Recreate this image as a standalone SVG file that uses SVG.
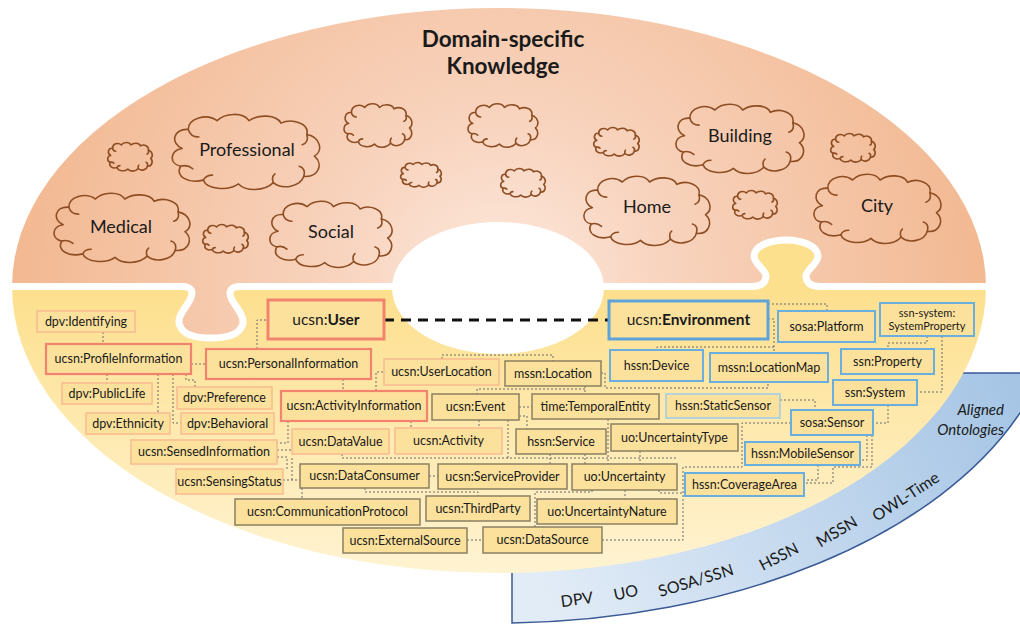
<svg xmlns="http://www.w3.org/2000/svg" xmlns:xlink="http://www.w3.org/1999/xlink" width="1020" height="625" viewBox="0 0 1020 625">
<style>
text{font-family:Lato,"Open Sans","Liberation Sans",sans-serif;fill:#1a1a1a}
.bx{font-size:12.5px;text-anchor:middle}
.big{font-size:15.5px;text-anchor:middle}
.cl{font-size:18px;text-anchor:middle}
.band{font-size:16px;text-anchor:middle}
.box{fill:#fce19c}
.th{stroke:#f2846f;stroke-width:2.2}
.us{stroke:#f2846f;stroke-width:3}
.lo{stroke:#f8bb90;stroke-width:1.5}
.dk{stroke:#8a8062;stroke-width:1.5}
.en{stroke:#5ea3da;stroke-width:3}
.bl{stroke:#6aaee0;stroke-width:2}
.lb{stroke:#9ccbec;stroke-width:1.5}
.cn{fill:none;stroke:#6b6b6b;stroke-width:1;stroke-dasharray:2 2}
.cloudline{fill:none;stroke:#8e4e24;stroke-width:1.6;stroke-linejoin:round;stroke-linecap:round}
</style>
<defs>
<radialGradient id="peach" gradientUnits="userSpaceOnUse" cx="500" cy="285" r="490">
<stop offset="0" stop-color="#fde9de"/>
<stop offset="0.35" stop-color="#f8d3bd"/>
<stop offset="1" stop-color="#f2b891"/>
</radialGradient>
<linearGradient id="yellow" gradientUnits="userSpaceOnUse" x1="0" y1="290" x2="0" y2="575">
<stop offset="0" stop-color="#fde08e"/>
<stop offset="1" stop-color="#fff3d2"/>
</linearGradient>
<linearGradient id="blue" gradientUnits="userSpaceOnUse" x1="1000" y1="370" x2="560" y2="625">
<stop offset="0" stop-color="#a6c5e5"/>
<stop offset="1" stop-color="#e2ecf7"/>
</linearGradient>
<g id="cloud">
<path class="cloudline" vector-effect="non-scaling-stroke" d="M8,28 C0,24 2,12 12,13 C12,4 24,0 31,6 C36,0 48,-1 52,6 C58,1 70,1 73,8 C80,4 92,8 90,17 C99,19 101,30 95,34 C101,40 98,51 88,50 C86,58 74,61 68,55 C62,62 50,62 45,56 C38,62 24,60 22,53 C12,56 3,50 7,42 C-1,40 0,29 8,28 Z"/>
<path class="cloudline" vector-effect="non-scaling-stroke" d="M12,13 C13,17 16,19 19,19 M90,17 C91,21 90,24 87,25 M88,50 C89,46 88,43 85,42 M68,55 C67,52 67,50 69,48 M22,53 C23,50 25,49 28,49 M7,42 C10,41 13,42 15,44"/>
</g>
</defs>

<g id="background">
<path d="M512,373 H1030 V413 L1020,413 A563,333 0 0 1 512,623 Z" fill="url(#blue)" stroke="#3a5a96" stroke-width="1.5"/>
<path d="M12,287 A487,279 0 0 1 986,287 Z" fill="url(#peach)"/>
<path d="M12,287 H986 A487,286 0 0 1 12,287 Z" fill="url(#yellow)"/>
<path d="M182,286.5 C192,286.5 194,292 190,300 C184,310 176,318 180,326 C184,336 198,338 211,338 C224,338 238,336 242,326 C246,318 238,310 232,300 C228,292 230,286.5 240,286.5 Z" fill="url(#peach)"/>
<path d="M752,287 C762,287 766,282 766,276 C766,270 754,264 754,256 C754,246 770,240 786,240 C802,240 818,246 818,256 C818,264 806,270 806,276 C806,282 810,287 820,287 Z" fill="url(#yellow)"/>
<path d="M4,286.5 H182 C192,286.5 194,292 190,300 C184,310 176,318 180,326 C184,336 198,338 211,338 C224,338 238,336 242,326 C246,318 238,310 232,300 C228,292 230,286.5 240,286.5 H752 C762,286.5 766,282 766,276 C766,270 754,264 754,256 C754,246 770,240 786,240 C802,240 818,246 818,256 C818,264 806,270 806,276 C806,282 810,286.5 820,286.5 H994" fill="none" stroke="#ffffff" stroke-width="7" stroke-linejoin="round"/>
<ellipse cx="498" cy="288" rx="106" ry="66" fill="#ffffff"/>
</g>

<g id="title">
<text x="503" y="47" style="font-size:22.5px;font-weight:bold;text-anchor:middle">Domain-specific</text>
<text x="503" y="74" style="font-size:22.5px;font-weight:bold;text-anchor:middle">Knowledge</text>
</g>

<g id="clouds">
<g id="cloud-professional"><use xlink:href="#cloud" transform="translate(170,113) scale(1.52,1.267)"/><text class="cl" x="247" y="156">Professional</text></g>
<g id="cloud-medical"><use xlink:href="#cloud" transform="translate(52,192) scale(1.4,1.167)"/><text class="cl" x="121" y="233">Medical</text></g>
<g id="cloud-social"><use xlink:href="#cloud" transform="translate(268,200) scale(1.26,1.117)"/><text class="cl" x="331" y="238">Social</text></g>
<g id="cloud-home"><use xlink:href="#cloud" transform="translate(582,175) scale(1.3,1.167)"/><text class="cl" x="647" y="213">Home</text></g>
<g id="cloud-building"><use xlink:href="#cloud" transform="translate(674,103) scale(1.32,1.167)"/><text class="cl" x="740" y="142">Building</text></g>
<g id="cloud-city"><use xlink:href="#cloud" transform="translate(812,173) scale(1.31,1.167)"/><text class="cl" x="877" y="212">City</text></g>
<use xlink:href="#cloud" transform="translate(107,142) scale(0.46,0.483)"/>
<use xlink:href="#cloud" transform="translate(202,224) scale(0.47,0.483)"/>
<use xlink:href="#cloud" transform="translate(343,103) scale(0.7,0.733)"/>
<use xlink:href="#cloud" transform="translate(400,162) scale(0.42,0.417)"/>
<use xlink:href="#cloud" transform="translate(467,103) scale(0.72,0.733)"/>
<use xlink:href="#cloud" transform="translate(500,168) scale(0.46,0.483)"/>
<use xlink:href="#cloud" transform="translate(593,127) scale(0.47,0.483)"/>
<use xlink:href="#cloud" transform="translate(732,190) scale(0.46,0.483)"/>
<use xlink:href="#cloud" transform="translate(830,133) scale(0.46,0.483)"/>
</g>

<g id="band-labels">
<text x="1004" y="415" style="font-size:15px;font-style:italic;text-anchor:end">Aligned</text>
<text x="1004" y="435" style="font-size:15px;font-style:italic;text-anchor:end">Ontologies</text>
<text class="band" transform="translate(577,600) rotate(-8)" x="0" y="5">DPV</text>
<text class="band" transform="translate(626,593) rotate(-12)" x="0" y="5">UO</text>
<text class="band" transform="translate(696,581) rotate(-17)" x="0" y="5">SOSA/SSN</text>
<text class="band" transform="translate(779,557) rotate(-27)" x="0" y="5">HSSN</text>
<text class="band" transform="translate(837,532) rotate(-31)" x="0" y="5">MSSN</text>
<text class="band" transform="translate(906,497) rotate(-33)" x="0" y="5">OWL-Time</text>
</g>

<g id="connectors">
<path class="cn" d="M103,332 V344"/>
<path class="cn" d="M191,364 H206"/>
<path class="cn" d="M107,374 V383"/>
<path class="cn" d="M158,374 V413"/>
<path class="cn" d="M173,374 V423 H181"/>
<path class="cn" d="M186,374 V380 H195 V387"/>
<path class="cn" d="M257,349 V320 H268"/>
<path class="cn" d="M343,379 V391"/>
<path class="cn" d="M376,391 V372 H384"/>
<path class="cn" d="M442,359 V355 H553 V361"/>
<path class="cn" d="M411,421 V428"/>
<path class="cn" d="M288,421 V443 H277"/>
<path class="cn" d="M277,450 H292"/>
<path class="cn" d="M277,457 H287 V469"/>
<path class="cn" d="M283,480 H300"/>
<path class="cn" d="M292,458 V480"/>
<path class="cn" d="M302,488 V499"/>
<path class="cn" d="M342,454 V458 H677"/>
<path class="cn" d="M508,420 V458"/>
<path class="cn" d="M550,454 V464"/>
<path class="cn" d="M585,454 V464"/>
<path class="cn" d="M585,386 V394 M585,389 H477 V394"/>
<path class="cn" d="M519,407 H532"/>
<path class="cn" d="M479,420 V428"/>
<path class="cn" d="M519,416 H527 V429"/>
<path class="cn" d="M608,419 V464"/>
<path class="cn" d="M640,451 V464"/>
<path class="cn" d="M429,476 H438"/>
<path class="cn" d="M365,488 V492 H478 V496"/>
<path class="cn" d="M592,490 V492 H535 V527"/>
<path class="cn" d="M625,490 V499"/>
<path class="cn" d="M467,540 H483"/>
<path class="cn" d="M602,540 H683 V467 H742 V423 H791"/>
<path class="cn" d="M659,490 V493 H683"/>
<path class="cn" d="M601,373 H605 V388 H768 V382"/>
<path class="cn" d="M768,319 H774 V353 M774,347 H657 V350"/>
<path class="cn" d="M768,304 H827 V311"/>
<path class="cn" d="M927,336 V343 H888 V349"/>
<path class="cn" d="M942,336 V392 H917"/>
<path class="cn" d="M888,405 V423 H873"/>
<path class="cn" d="M780,400 H815 V410"/>
<path class="cn" d="M867,435 V460 H860"/>
<path class="cn" d="M872,435 V467 H833 V483 H804"/>
<path class="cn" d="M818,465 V480 H804"/>
<path d="M384,320 H609" fill="none" stroke="#111111" stroke-width="3" stroke-dasharray="10 7"/>
</g>

<g id="n-identifying"><rect class="box lo" x="37" y="311" width="98" height="21"/><text class="bx" x="86" y="326">dpv:Identifying</text></g>
<g id="n-profileinformation"><rect class="box th" x="46" y="344" width="145" height="30"/><text class="bx" x="118.5" y="363">ucsn:ProfileInformation</text></g>
<g id="n-personalinformation"><rect class="box th" x="206" y="349" width="165" height="30"/><text class="bx" x="288.5" y="368">ucsn:PersonalInformation</text></g>
<g id="n-publiclife"><rect class="box lo" x="62" y="383" width="90" height="21"/><text class="bx" x="107" y="398">dpv:PublicLife</text></g>
<g id="n-preference"><rect class="box lo" x="177" y="387" width="95" height="22"/><text class="bx" x="224.5" y="402">dpv:Preference</text></g>
<g id="n-ethnicity"><rect class="box lo" x="86" y="413" width="84" height="21"/><text class="bx" x="128" y="428">dpv:Ethnicity</text></g>
<g id="n-behavioral"><rect class="box lo" x="181" y="413" width="93" height="21"/><text class="bx" x="227.5" y="428">dpv:Behavioral</text></g>
<g id="n-sensedinformation"><rect class="box lo" x="131" y="440" width="146" height="24"/><text class="bx" x="204" y="456">ucsn:SensedInformation</text></g>
<g id="n-sensingstatus"><rect class="box lo" x="176" y="469" width="107" height="25"/><text class="bx" x="229.5" y="486">ucsn:SensingStatus</text></g>
<g id="n-user"><rect class="box us" x="268" y="300" width="116" height="39"/><text class="big" x="326" y="325">ucsn:<tspan font-weight="bold">User</tspan></text></g>
<g id="n-userlocation"><rect class="box lo" x="384" y="359" width="115" height="26"/><text class="bx" x="441.5" y="376">ucsn:UserLocation</text></g>
<g id="n-activityinformation"><rect class="box th" x="281" y="391" width="146" height="30"/><text class="bx" x="354" y="410">ucsn:ActivityInformation</text></g>
<g id="n-location"><rect class="box dk" x="505" y="361" width="96" height="25"/><text class="bx" x="553" y="378">mssn:Location</text></g>
<g id="n-event"><rect class="box dk" x="432" y="394" width="87" height="26"/><text class="bx" x="475.5" y="411">ucsn:Event</text></g>
<g id="n-temporalentity"><rect class="box dk" x="532" y="394" width="127" height="25"/><text class="bx" x="595.5" y="411">time:TemporalEntity</text></g>
<g id="n-datavalue"><rect class="box lo" x="292" y="429" width="97" height="25"/><text class="bx" x="340.5" y="446">ucsn:DataValue</text></g>
<g id="n-activity"><rect class="box lo" x="395" y="428" width="107" height="26"/><text class="bx" x="448.5" y="445">ucsn:Activity</text></g>
<g id="n-service"><rect class="box dk" x="516" y="429" width="90" height="25"/><text class="bx" x="561" y="446">hssn:Service</text></g>
<g id="n-uncertaintytype"><rect class="box dk" x="611" y="424" width="127" height="27"/><text class="bx" x="674.5" y="442">uo:UncertaintyType</text></g>
<g id="n-dataconsumer"><rect class="box dk" x="300" y="464" width="129" height="24"/><text class="bx" x="364.5" y="480">ucsn:DataConsumer</text></g>
<g id="n-serviceprovider"><rect class="box dk" x="438" y="464" width="129" height="25"/><text class="bx" x="502.5" y="481">ucsn:ServiceProvider</text></g>
<g id="n-uncertainty"><rect class="box dk" x="572" y="464" width="105" height="26"/><text class="bx" x="624.5" y="481">uo:Uncertainty</text></g>
<g id="n-communicationprotocol"><rect class="box dk" x="235" y="499" width="185" height="26"/><text class="bx" x="327.5" y="516">ucsn:CommunicationProtocol</text></g>
<g id="n-thirdparty"><rect class="box dk" x="426" y="496" width="104" height="25"/><text class="bx" x="478" y="513">ucsn:ThirdParty</text></g>
<g id="n-uncertaintynature"><rect class="box dk" x="537" y="499" width="140" height="25"/><text class="bx" x="607" y="516">uo:UncertaintyNature</text></g>
<g id="n-externalsource"><rect class="box dk" x="343" y="528" width="124" height="25"/><text class="bx" x="405" y="545">ucsn:ExternalSource</text></g>
<g id="n-datasource"><rect class="box dk" x="483" y="527" width="119" height="26"/><text class="bx" x="542.5" y="544">ucsn:DataSource</text></g>
<g id="n-environment"><rect class="box en" x="609" y="301" width="159" height="38"/><text class="big" x="688.5" y="325">ucsn:<tspan font-weight="bold">Environment</tspan></text></g>
<g id="n-device"><rect class="box bl" x="610" y="350" width="93" height="31"/><text class="bx" x="656.5" y="370">hssn:Device</text></g>
<g id="n-locationmap"><rect class="box bl" x="710" y="353" width="118" height="29"/><text class="bx" x="769" y="372">mssn:LocationMap</text></g>
<g id="n-staticsensor"><rect class="box lb" x="666" y="394" width="114" height="24"/><text class="bx" x="723" y="410">hssn:StaticSensor</text></g>
<g id="n-platform"><rect class="box bl" x="778" y="311" width="97" height="31"/><text class="bx" x="826.5" y="331">sosa:Platform</text></g>
<g id="n-systemproperty"><rect class="box bl" x="880" y="303" width="94" height="33"/><text x="927" y="317" style="font-size:11px;text-anchor:middle">ssn-system:</text><text x="927" y="330" style="font-size:11px;text-anchor:middle">SystemProperty</text></g>
<g id="n-property"><rect class="box bl" x="841" y="349" width="93" height="25"/><text class="bx" x="887.5" y="366">ssn:Property</text></g>
<g id="n-system"><rect class="box bl" x="833" y="380" width="84" height="25"/><text class="bx" x="875" y="397">ssn:System</text></g>
<g id="n-sensor"><rect class="box bl" x="791" y="410" width="82" height="25"/><text class="bx" x="832" y="427">sosa:Sensor</text></g>
<g id="n-mobilesensor"><rect class="box bl" x="745" y="442" width="115" height="23"/><text class="bx" x="802.5" y="458">hssn:MobileSensor</text></g>
<g id="n-coveragearea"><rect class="box bl" x="685" y="473" width="119" height="23"/><text class="bx" x="744.5" y="489">hssn:CoverageArea</text></g>
</svg>
